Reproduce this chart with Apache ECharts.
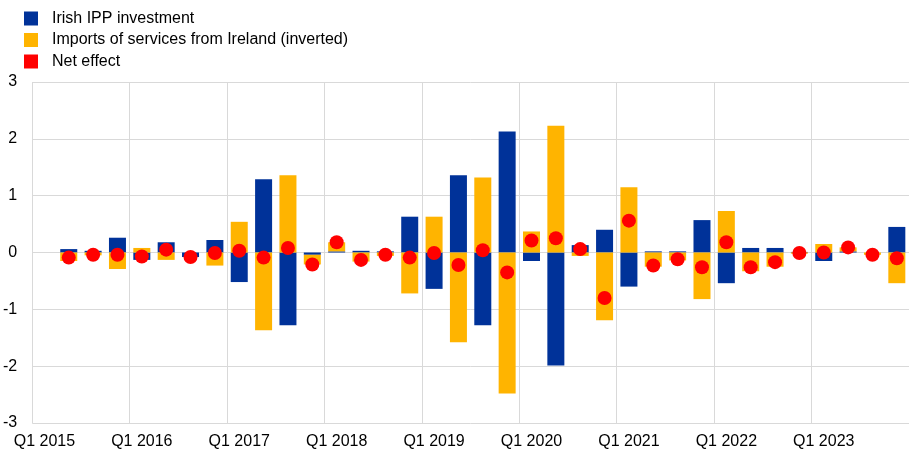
<!DOCTYPE html>
<html>
<head>
<meta charset="utf-8">
<script src="https://cdn.jsdelivr.net/npm/echarts@6/dist/echarts.min.js"></script>
<style>
  html, body { margin: 0; padding: 0; background: #fff; }
  #chart { width: 909px; height: 453px; }
</style>
</head>
<body>
<div id="chart"></div>
<script>
// quarters Q1 2015 .. Q4 2023, first quarter has no data
let years = [2015, 2016, 2017, 2018, 2019, 2020, 2021, 2022, 2023]
let quarters = []
years.forEach(y => {
    for (let q = 1; q <= 4; q++) quarters.push('Q' + q + ' ' + y)
})

let ippInvestment = [null,
    0.06, 0.03, 0.26, -0.13, 0.18, -0.08, 0.22,
    -0.52, 1.29, -1.28, -0.04,
    0.02, 0.03, 0.02, 0.63,
    -0.64, 1.36, -1.28, 2.13,
    -0.15, -1.99, 0.13, 0.40,
    -0.60, 0.02, 0.02, 0.57,
    -0.54, 0.08, 0.08, 0.01,
    -0.15, 0.02, 0.00, 0.45]

let servicesImports = [null,
    -0.15, -0.05, -0.29, 0.08, -0.13, 0.00, -0.23,
    0.54, -1.37, 1.36, -0.17,
    0.16, -0.16, -0.06, -0.72,
    0.63, -1.58, 1.32, -2.48,
    0.37, 2.23, -0.06, -1.19,
    1.15, -0.25, -0.14, -0.82,
    0.73, -0.33, -0.25, -0.02,
    0.15, 0.07, -0.04, -0.54]

let netEffect = [null,
    -0.09, -0.04, -0.04, -0.07, 0.05, -0.08, -0.01,
    0.03, -0.09, 0.08, -0.21,
    0.18, -0.13, -0.04, -0.09,
    -0.01, -0.22, 0.04, -0.35,
    0.21, 0.25, 0.06, -0.80,
    0.56, -0.23, -0.12, -0.26,
    0.18, -0.26, -0.17, -0.01,
    0.00, 0.09, -0.04, -0.10]

let font = 'Liberation Sans, Arial, sans-serif'
let gridColor = '#d9d9d9'

let myChart = echarts.init(document.getElementById('chart'))

let option = {
    animation: false,
    textStyle: { fontFamily: font },
    legend: {
        orient: 'vertical',
        left: 24,
        top: 10.5,
        padding: 0,
        itemWidth: 14,
        itemHeight: 14,
        itemGap: 5.5,
        textStyle: {
            fontFamily: font,
            fontSize: 16,
            lineHeight: 16,
            color: '#000',
            padding: [0, 0, 0, 9]
        },
        data: [
            { name: 'Irish IPP investment', icon: 'rect' },
            { name: 'Imports of services from Ireland (inverted)', icon: 'rect' },
            { name: 'Net effect', icon: 'rect' }
        ]
    },
    grid: {
        left: 31,
        right: 0,
        top: 82,
        bottom: 30,
        containLabel: false
    },
    xAxis: {
        type: 'category',
        data: quarters,
        boundaryGap: true,
        axisLine: { show: false },
        axisTick: { show: false, interval: 3 },
        axisLabel: {
            interval: 3,
            margin: 11,
            fontSize: 16,
            color: '#000',
            fontFamily: font
        },
        splitLine: {
            show: true,
            interval: 3,
            lineStyle: { color: gridColor, width: 1 }
        }
    },
    yAxis: {
        type: 'value',
        min: -3,
        max: 3,
        interval: 1,
        axisLine: { show: false },
        axisTick: { show: false },
        axisLabel: {
            margin: 15,
            fontSize: 16,
            color: '#000',
            fontFamily: font
        },
        splitLine: { lineStyle: { color: gridColor, width: 1 } }
    },
    series: [
        {
            name: 'Irish IPP investment',
            type: 'bar',
            stack: 'total',
            barWidth: 17,
            data: ippInvestment,
            itemStyle: { color: '#003299' }
        },
        {
            name: 'Imports of services from Ireland (inverted)',
            type: 'bar',
            stack: 'total',
            barWidth: 17,
            data: servicesImports,
            itemStyle: { color: '#FFB400' }
        },
        {
            name: 'Net effect',
            type: 'scatter',
            symbol: 'circle',
            symbolSize: 14,
            data: netEffect,
            itemStyle: { color: '#FF0000', opacity: 1 },
            z: 5
        }
    ]
}
myChart.setOption(option)

window.addEventListener('resize', () => {
    myChart.resize()
})
</script>
</body>
</html>
